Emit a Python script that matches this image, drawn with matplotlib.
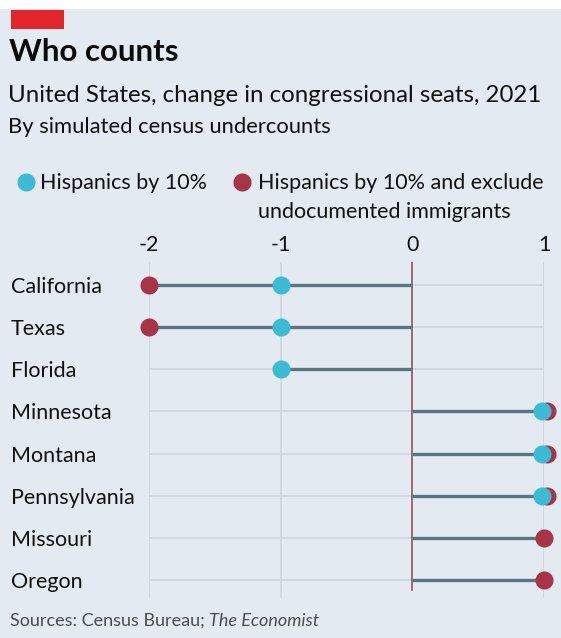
import numpy as np
import matplotlib.pyplot as plt
from matplotlib.lines import Line2D
from matplotlib.patches import Rectangle
import matplotlib.transforms as mtransforms

states = ['California', 'Texas', 'Florida', 'Minnesota', 'Montana',
          'Pennsylvania', 'Missouri', 'Oregon']
hispanics = [-1, -1, -1, 1, 1, 1, np.nan, np.nan]
hispanics_excl = [-2, -2, np.nan, 1, 1, 1, 1, 1]
ticks = [-2, -1, 0, 1]

BG = '#e3eaf1'
CYAN = '#3cbcd4'
RED = '#a83447'
STEM = '#5a7583'
GRID = '#cbd5de'
ZERO = '#8a4552'
FS = 15.5

W, H = 561, 638
fig = plt.figure(figsize=(W / 100, H / 100), dpi=100)
fig.patch.set_facecolor(BG)
plt.rcParams['font.family'] = ['Lato', 'DejaVu Sans']


def fx(px):
    return px / W


def fy(py):
    return 1 - py / H


# white strip on top + red tag
fig.add_artist(Rectangle((0, fy(9)), 1, 9 / H, transform=fig.transFigure,
                         facecolor='white', edgecolor='none'))
fig.add_artist(Rectangle((fx(11), fy(29)), 53 / W, 19 / H, transform=fig.transFigure,
                         facecolor='#e3262b', edgecolor='none'))

fig.text(fx(9), fy(52), 'Who counts', fontsize=22.5, fontweight='bold',
         va='center', ha='left', color='#0b0b0b')
fig.text(fx(8), fy(95), 'United States, change in congressional seats, 2021',
         fontsize=17.3, va='center', ha='left', color='#111111')
fig.text(fx(8), fy(127), 'By simulated census undercounts',
         fontsize=15.8, va='center', ha='left', color='#111111')

# legend
fig.add_artist(Line2D([fx(26)], [fy(182)], transform=fig.transFigure, marker='o',
                      markersize=12, color=CYAN, linestyle='none'))
fig.text(fx(40), fy(183), 'Hispanics by 10%', fontsize=FS, va='center', ha='left',
         color='#111111')
fig.add_artist(Line2D([fx(242)], [fy(182)], transform=fig.transFigure, marker='o',
                      markersize=12, color=RED, linestyle='none'))
fig.text(fx(258), fy(183), 'Hispanics by 10% and exclude', fontsize=FS, va='center',
         ha='left', color='#111111')
fig.text(fx(258), fy(212), 'undocumented immigrants', fontsize=FS, va='center',
         ha='left', color='#111111')

# axes: x from -2 (149px) to 1 (544px); rows 285..580
ax = fig.add_axes([fx(149), fy(600), (544 - 149) / W, (600 - 262) / H])
ax.set_facecolor('none')
ax.set_xlim(-2, 1)
y = np.arange(len(states))
row_h = (580 - 285) / (len(states) - 1)
top_pad = (285 - 262) / row_h
bot_pad = (600 - 580) / row_h
ax.set_ylim(len(states) - 1 + bot_pad, -top_pad)
for s in ax.spines.values():
    s.set_visible(False)
ax.tick_params(length=0)
ax.set_xticks(ticks)
ax.set_xticklabels([str(t) for t in ticks], fontsize=FS, color='#111111')
ax.xaxis.tick_top()
ax.tick_params(axis='x', pad=5)
ax.set_yticks(y)
ax.set_yticklabels(states, fontsize=FS, color='#111111', ha='left')
ax.tick_params(axis='y', pad=(149 - 11) * 72 / 100)

# grid
for t in ticks:
    if t == 0:
        continue
    ax.axvline(t, ymin=0.01, ymax=1, color=GRID, lw=1.1, zorder=1)
for yi in y:
    ax.plot([-2, 1], [yi, yi], color=GRID, lw=1.1, zorder=1, solid_capstyle='butt')
ax.axvline(0, ymin=0.03, ymax=1, color=ZERO, lw=1.1, zorder=2)

# stems
for yi, a, b in zip(y, hispanics, hispanics_excl):
    vals = [v for v in (a, b) if not np.isnan(v)]
    end = min(vals) if min(vals) < 0 else max(vals)
    ax.plot([0, end], [yi, yi], color=STEM, lw=2.4, zorder=3, solid_capstyle='butt')

# dots; where both series coincide, nudge them apart a little
left = mtransforms.offset_copy(ax.transData, fig=fig, x=-2, y=0, units='dots')
right = mtransforms.offset_copy(ax.transData, fig=fig, x=3, y=0, units='dots')
for yi, a, b in zip(y, hispanics, hispanics_excl):
    same = (not np.isnan(a)) and a == b
    if not np.isnan(b):
        ax.plot(b, yi, 'o', color=RED, markersize=13, markeredgewidth=0, zorder=4,
                clip_on=False, transform=right if same else ax.transData)
    if not np.isnan(a):
        ax.plot(a, yi, 'o', color=CYAN, markersize=13, markeredgewidth=0, zorder=5,
                clip_on=False, transform=left if same else ax.transData)

src = fig.text(fx(10), fy(621), 'Sources: Census Bureau; ', fontsize=13, va='center',
               ha='left', color='#4d4d4d')
fig.canvas.draw()
bb = src.get_window_extent()
fig.text(bb.x1 / W, fy(621), 'The Economist', fontsize=13, va='center', ha='left',
         color='#4d4d4d', style='italic')

fig.savefig('out.png', dpi=100, facecolor=BG)
